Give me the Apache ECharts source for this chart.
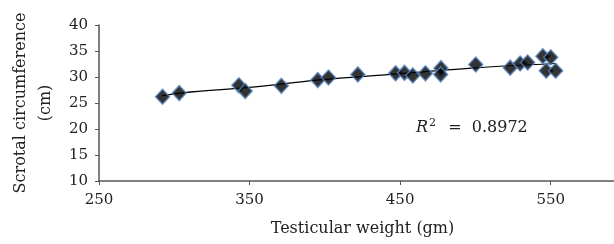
<!DOCTYPE html>
<html>
<head>
<meta charset="utf-8">
<script src="https://cdn.jsdelivr.net/npm/echarts@6/dist/echarts.min.js"></script>
<style>
html,body{margin:0;padding:0;background:#fff;}
#c{width:614px;height:244px;}
</style>
</head>
<body>
<div id="c"></div>
<script>
// Data
var weight = [292.2, 303.3, 342.9, 347.1, 371.1, 395.3, 402.4, 421.9, 447.0, 452.9, 458.4, 466.8, 477.1, 476.9, 500.2, 523.1, 529.7, 534.7, 544.8, 550.0, 547.0, 553.3];
var circumference = [26.2, 26.9, 28.4, 27.3, 28.3, 29.4, 29.9, 30.5, 30.7, 30.8, 30.3, 30.7, 31.7, 30.5, 32.4, 31.8, 32.6, 32.8, 34.0, 33.8, 31.2, 31.2];
// Trendline
var trendX = [292, 307, 350, 395, 448, 502, 553];
var trendY = [26.4, 27.0, 28.0, 29.4, 30.6, 31.8, 32.6];
var xTicks = [250, 350, 450, 550];
var yTicks = [10, 15, 20, 25, 30, 35, 40];
var rSquared = '0.8972';

var pts = weight.map(function(w, i){ return [w, circumference[i]]; });
var trend = trendX.map(function(x, i){ return [x, trendY[i]]; });

var serif = '"DejaVu Serif","Liberation Serif",serif';
var chart = echarts.init(document.getElementById('c'), null, {renderer:'canvas'});
chart.setOption({
  animation:false,
  backgroundColor:'#fff',
  grid:{left:99, top:25, bottom:63, right:-12, containLabel:false, outerBoundsMode:'none'},
  xAxis:{
    type:'value', min:xTicks[0], max:600, interval:100,
    axisLine:{show:true, lineStyle:{color:'#555', width:1.5}},
    axisTick:{show:true, length:4, inside:false, lineStyle:{color:'#555'}},
    splitLine:{show:false},
    axisLabel:{color:'#222', fontFamily:serif, fontSize:15, margin:12,
      formatter:function(v){ return xTicks.indexOf(v)>=0 ? String(v) : ''; }},
    name:'Testicular weight (gm)', nameLocation:'middle', nameGap:40,
    nameTextStyle:{color:'#222', fontFamily:serif, fontSize:16}
  },
  yAxis:{
    type:'value', min:yTicks[0], max:yTicks[yTicks.length-1], interval:5,
    axisLine:{show:true, lineStyle:{color:'#555', width:1.5}},
    axisTick:{show:true, length:4, lineStyle:{color:'#555'}},
    splitLine:{show:false},
    axisLabel:{color:'#222', fontFamily:serif, fontSize:15, margin:11},
    name:'Scrotal circumference\n(cm)', nameLocation:'middle', nameGap:41,
    nameTextStyle:{color:'#222', fontFamily:serif, fontSize:16, lineHeight:25}
  },
  series:[
    {type:'line', data:trend, smooth:0.3, symbol:'none', silent:true,
      lineStyle:{color:'#000', width:1.2}, z:1},
    {type:'scatter', data:pts, symbol:'diamond', symbolSize:[14,15],
      itemStyle:{color:'#000', borderColor:'#5585c0', borderWidth:1.5}, z:2}
  ],
  graphic:[{
    type:'text', left:416, top:118,
    style:{
      text:'{i|R}{s|2}  =  ' + rSquared,
      font:'16px '+serif, fill:'#222',
      rich:{
        i:{fontStyle:'italic', fontFamily:serif, fontSize:16, fill:'#222'},
        s:{fontFamily:serif, fontSize:11, verticalAlign:'top', padding:[0,2,8,1], fill:'#222'}
      }
    }
  }]
});
</script>
</body>
</html>
